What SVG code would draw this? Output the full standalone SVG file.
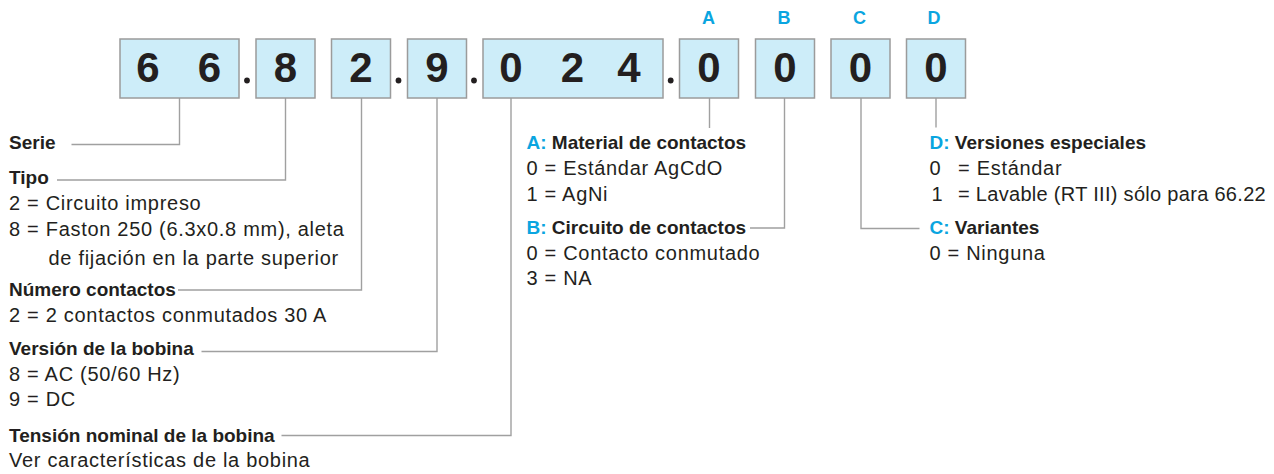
<svg xmlns="http://www.w3.org/2000/svg" width="1274" height="474" viewBox="0 0 1274 474">
<style>
.bx{fill:#CDEDF9;stroke:#9B9B9B;stroke-width:1.5}
.dg{font-family:"Liberation Sans",Arial,sans-serif;font-weight:bold;font-size:42px;fill:#231F20;text-anchor:middle}
.lt{font-family:"Liberation Sans",Arial,sans-serif;font-weight:bold;font-size:18px;fill:#0AA5E0;text-anchor:middle}
.h{font-family:"Liberation Sans",Arial,sans-serif;font-weight:bold;font-size:19px;fill:#231F20}
.t{font-family:"Liberation Sans",Arial,sans-serif;font-size:20px;letter-spacing:0.7px;fill:#231F20}
.b{fill:#0AA5E0}
.ln{fill:none;stroke:#A0A0A0;stroke-width:1.4}
.dot{fill:#231F20}
</style>
<rect width="1274" height="474" fill="#FFFFFF"/>

<g id="connectors">
<polyline class="ln" points="179.5,98 179.5,144.5 71.5,144.5"/>
<polyline class="ln" points="285.5,98 285.5,180 57,180"/>
<polyline class="ln" points="361.5,98 361.5,290 178,290"/>
<polyline class="ln" points="437,98 437,351.5 201.5,351.5"/>
<polyline class="ln" points="511,98 511,435.5 281.5,435.5"/>
<polyline class="ln" points="709.5,98 709.5,128"/>
<polyline class="ln" points="784.5,98 784.5,228 750,228"/>
<polyline class="ln" points="861,98 861,228.5 919.5,228.5"/>
<polyline class="ln" points="936,98 936,127.5"/>
</g>

<g id="code">
<g id="box-serie"><rect class="bx" x="120" y="39" width="119" height="59"/><text class="dg" x="148" y="82">6</text><text class="dg" x="209.5" y="82">6</text></g>
<circle class="dot" cx="247" cy="80.5" r="2.9"/>
<g id="box-tipo"><rect class="bx" x="256" y="39" width="59" height="59"/><text class="dg" x="285.5" y="82">8</text></g>
<g id="box-contactos"><rect class="bx" x="331.5" y="39" width="59" height="59"/><text class="dg" x="361" y="82">2</text></g>
<circle class="dot" cx="398.5" cy="80.5" r="2.9"/>
<g id="box-version"><rect class="bx" x="407.5" y="39" width="59" height="59"/><text class="dg" x="437" y="82">9</text></g>
<circle class="dot" cx="474" cy="80.5" r="2.9"/>
<g id="box-tension"><rect class="bx" x="483" y="39" width="180" height="59"/><text class="dg" x="511" y="82">0</text><text class="dg" x="572.5" y="82">2</text><text class="dg" x="629" y="82">4</text></g>
<circle class="dot" cx="670.7" cy="80.5" r="2.9"/>
<g id="box-a"><text class="lt" x="708.5" y="24">A</text><rect class="bx" x="679.5" y="39" width="59" height="59"/><text class="dg" x="709" y="82">0</text></g>
<g id="box-b"><text class="lt" x="784" y="24">B</text><rect class="bx" x="755.5" y="39" width="59" height="59"/><text class="dg" x="785" y="82">0</text></g>
<g id="box-c"><text class="lt" x="859.5" y="24">C</text><rect class="bx" x="831" y="39" width="59" height="59"/><text class="dg" x="860.5" y="82">0</text></g>
<g id="box-d"><text class="lt" x="934" y="24">D</text><rect class="bx" x="906.5" y="39" width="59" height="59"/><text class="dg" x="936" y="82">0</text></g>
</g>

<g id="label-serie"><text class="h" x="9" y="148.5">Serie</text></g>
<g id="label-tipo">
<text class="h" x="9" y="183.5">Tipo</text>
<text class="t" x="9" y="210">2 = Circuito impreso</text>
<text class="t" x="9" y="236">8 = Faston 250 (6.3x0.8 mm), aleta</text>
<text class="t" x="48.5" y="265">de fijación en la parte superior</text>
</g>
<g id="label-numero">
<text class="h" x="9" y="295.5">Número contactos</text>
<text class="t" x="9" y="321.5">2 = 2 contactos conmutados 30 A</text>
</g>
<g id="label-version">
<text class="h" x="9" y="355">Versión de la bobina</text>
<text class="t" x="9" y="381">8 = AC (50/60 Hz)</text>
<text class="t" x="9" y="406">9 = DC</text>
</g>
<g id="label-tension">
<text class="h" x="9" y="441.5">Tensión nominal de la bobina</text>
<text class="t" x="9" y="466.5">Ver características de la bobina</text>
</g>
<g id="label-a">
<text class="h" x="526.5" y="148.5"><tspan class="b">A:</tspan> Material de contactos</text>
<text class="t" x="526.5" y="175">0 = Estándar AgCdO</text>
<text class="t" x="526.5" y="201">1 = AgNi</text>
</g>
<g id="label-b">
<text class="h" x="526.5" y="233.5"><tspan class="b">B:</tspan> Circuito de contactos</text>
<text class="t" x="526.5" y="259.5">0 = Contacto conmutado</text>
<text class="t" x="526.5" y="285">3 = NA</text>
</g>
<g id="label-d">
<text class="h" x="929.5" y="149"><tspan class="b">D:</tspan> Versiones especiales</text>
<text class="t" x="929.5" y="175">0<tspan x="958">= Estándar</tspan></text>
<text class="t" x="931.5" y="201">1<tspan x="958" style="letter-spacing:0.3px">= Lavable (RT III) sólo para 66.22</tspan></text>
</g>
<g id="label-c">
<text class="h" x="929.5" y="234"><tspan class="b">C:</tspan> Variantes</text>
<text class="t" x="929.5" y="260">0 = Ninguna</text>
</g>
</svg>
